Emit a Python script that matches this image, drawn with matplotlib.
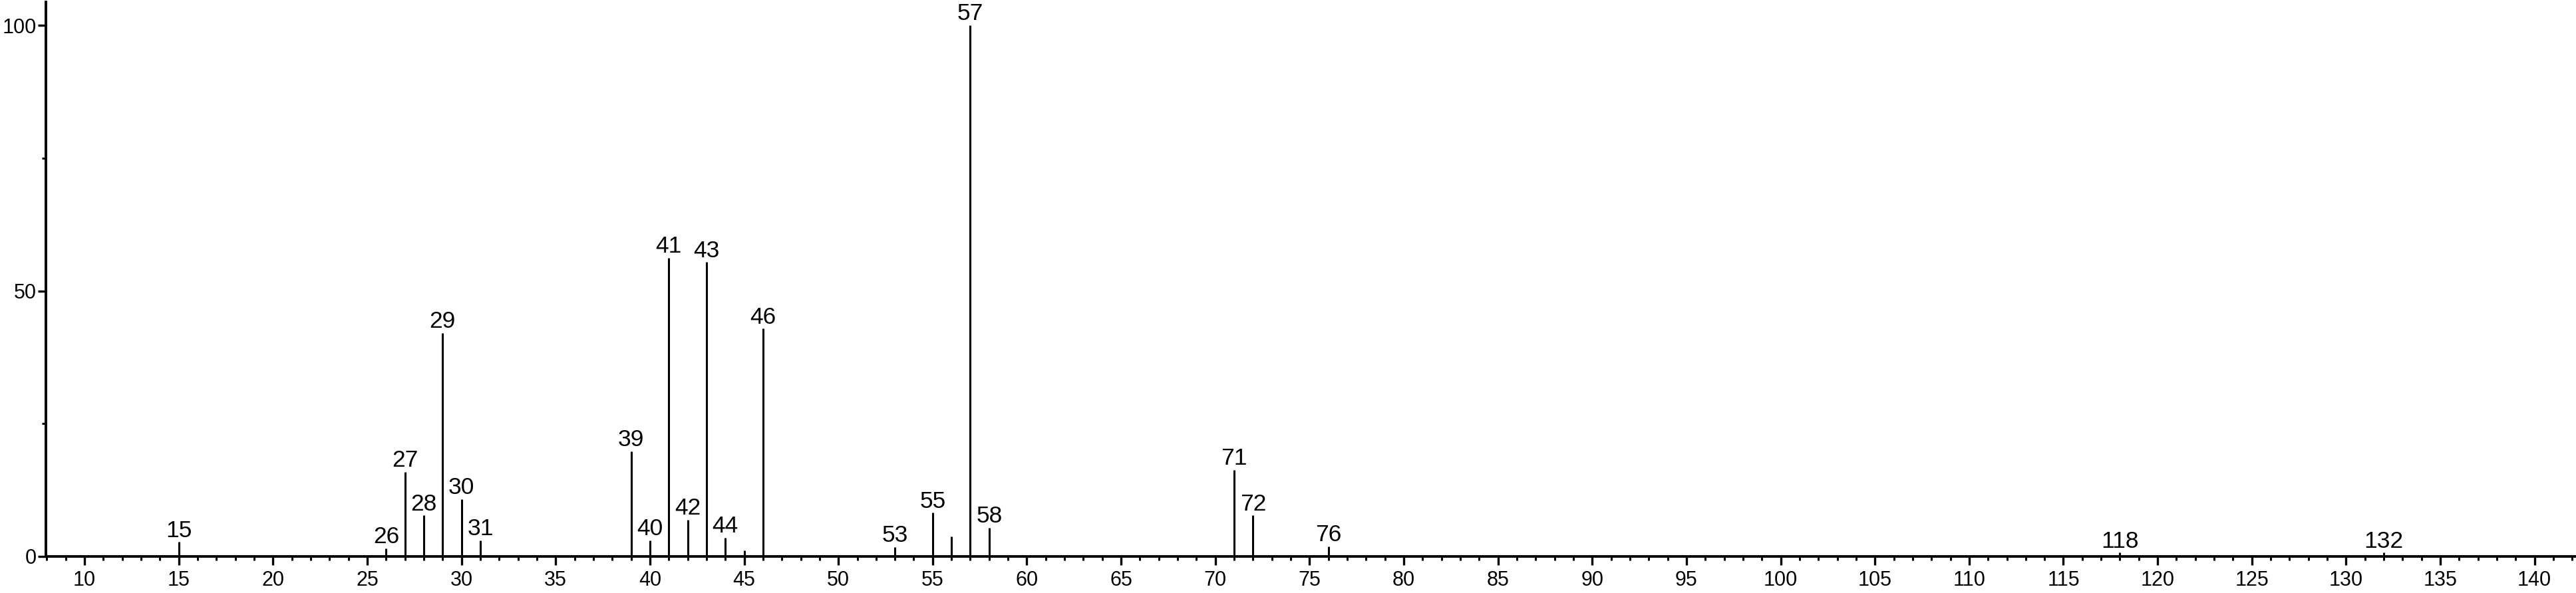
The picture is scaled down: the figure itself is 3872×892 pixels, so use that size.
import matplotlib.pyplot as plt
from matplotlib.ticker import MultipleLocator

plt.rcParams['font.family'] = ['Liberation Sans', 'DejaVu Sans']

# peaks of the spectrum (m/z, relative intensity)
mz = [15, 26, 27, 28, 29, 30, 31, 39, 40, 41, 42, 43, 44, 45, 46,
      53, 55, 56, 57, 58, 71, 72, 76, 118, 132]
intensity = [2.7, 1.5, 15.9, 7.7, 42.1, 10.8, 3.0, 19.8, 3.0, 56.2, 6.9, 55.4, 3.5, 1.1, 42.9,
             1.8, 8.2, 3.8, 100, 5.4, 16.3, 7.7, 1.9, 0.7, 0.7]
labeled = [15, 26, 27, 28, 29, 30, 31, 39, 40, 41, 42, 43, 44, 46,
           53, 55, 57, 58, 71, 72, 76, 118, 132]

fig = plt.figure(figsize=(38.72, 8.92), dpi=100)
ax = fig.add_axes([69 / 3872, 55 / 892, 1 - 69 / 3872, (837 - 3) / 892])

ax.vlines(mz, 0, intensity, colors='black', linewidth=2.2)
for m, v in zip(mz, intensity):
    if m in labeled:
        ax.annotate(str(m), (m, v), xytext=(0, 0.5), textcoords='offset points',
                    ha='center', va='bottom', fontsize=25.5)

ax.set_xlim(7.95, 142.2)
ax.set_ylim(0, 104.4)

ax.spines['top'].set_visible(False)
ax.spines['right'].set_visible(False)
ax.spines['left'].set_linewidth(2.8)
ax.spines['bottom'].set_linewidth(2.8)

ax.xaxis.set_major_locator(MultipleLocator(5))
ax.xaxis.set_minor_locator(MultipleLocator(1))
ax.yaxis.set_major_locator(MultipleLocator(50))
ax.yaxis.set_minor_locator(MultipleLocator(25))

ax.tick_params(axis='both', which='major', length=9, width=2.4, labelsize=22, direction='out')
ax.tick_params(axis='both', which='minor', length=4.5, width=2.2, direction='out')
ax.tick_params(axis='x', which='major', pad=6)
ax.tick_params(axis='y', which='major', pad=1)

fig.savefig('out.png', dpi=100)
